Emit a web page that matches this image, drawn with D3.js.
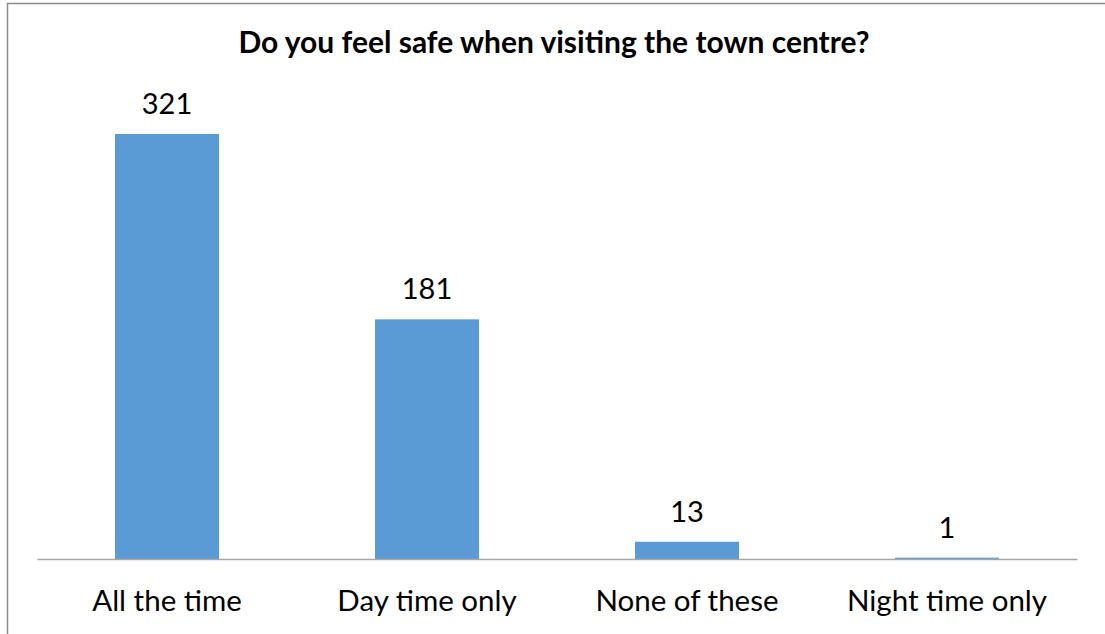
<!DOCTYPE html>
<html><head><meta charset="utf-8">
<script src="https://cdn.jsdelivr.net/npm/d3@7"></script>
<style>body{margin:0;background:#fff}text{font-family:Lato,"Open Sans",sans-serif}</style>
</head><body><svg id="c" width="1105" height="634"></svg>
<script>
const title = "Do you feel safe when visiting the town centre?";
const categories = ["All the time", "Day time only", "None of these", "Night time only"];
const values = [321, 181, 13, 1];

const svg = d3.select("#c");
const W = 1105, H = 634;
const m = {left: 37, right: 28, top: 134, bottom: 75};
svg.append("rect").attr("x", 7.5).attr("y", 3.5).attr("width", 1200).attr("height", 700)
  .attr("fill", "#fff").attr("stroke", "#8c8c8c").attr("stroke-width", 1.5);

const x = d3.scaleBand().domain(categories).range([m.left, W - m.right]).paddingInner(0.6).paddingOuter(0.3);
const y = d3.scaleLinear().domain([0, 321]).range([H - m.bottom, m.top]);

svg.append("text").attr("x", 554).attr("y", 53).attr("text-anchor", "middle")
  .attr("font-weight", "bold").attr("font-size", 30).attr("fill", "#000").text(title);

svg.selectAll(".bar").data(values).join("rect").attr("class", "bar")
  .attr("x", (d, i) => x(categories[i])).attr("width", x.bandwidth())
  .attr("y", d => y(d)).attr("height", d => y(0) - y(d)).attr("fill", "#5b9bd5");

svg.selectAll(".val").data(values).join("text").attr("class", "val")
  .attr("x", (d, i) => x(categories[i]) + x.bandwidth() / 2).attr("y", d => y(d) - 20)
  .attr("text-anchor", "middle").attr("font-size", 29).attr("fill", "#000").text(d => d);

const ax = svg.append("g").attr("transform", `translate(0,${y(0)})`)
  .call(d3.axisBottom(x).tickSize(0).tickPadding(0));
ax.select(".domain").attr("stroke", "#a6a6a6").attr("stroke-width", 1.5);
ax.selectAll("text").attr("font-size", 29.5).attr("fill", "#000").attr("dy", null).attr("y", 52);
</script></body></html>
